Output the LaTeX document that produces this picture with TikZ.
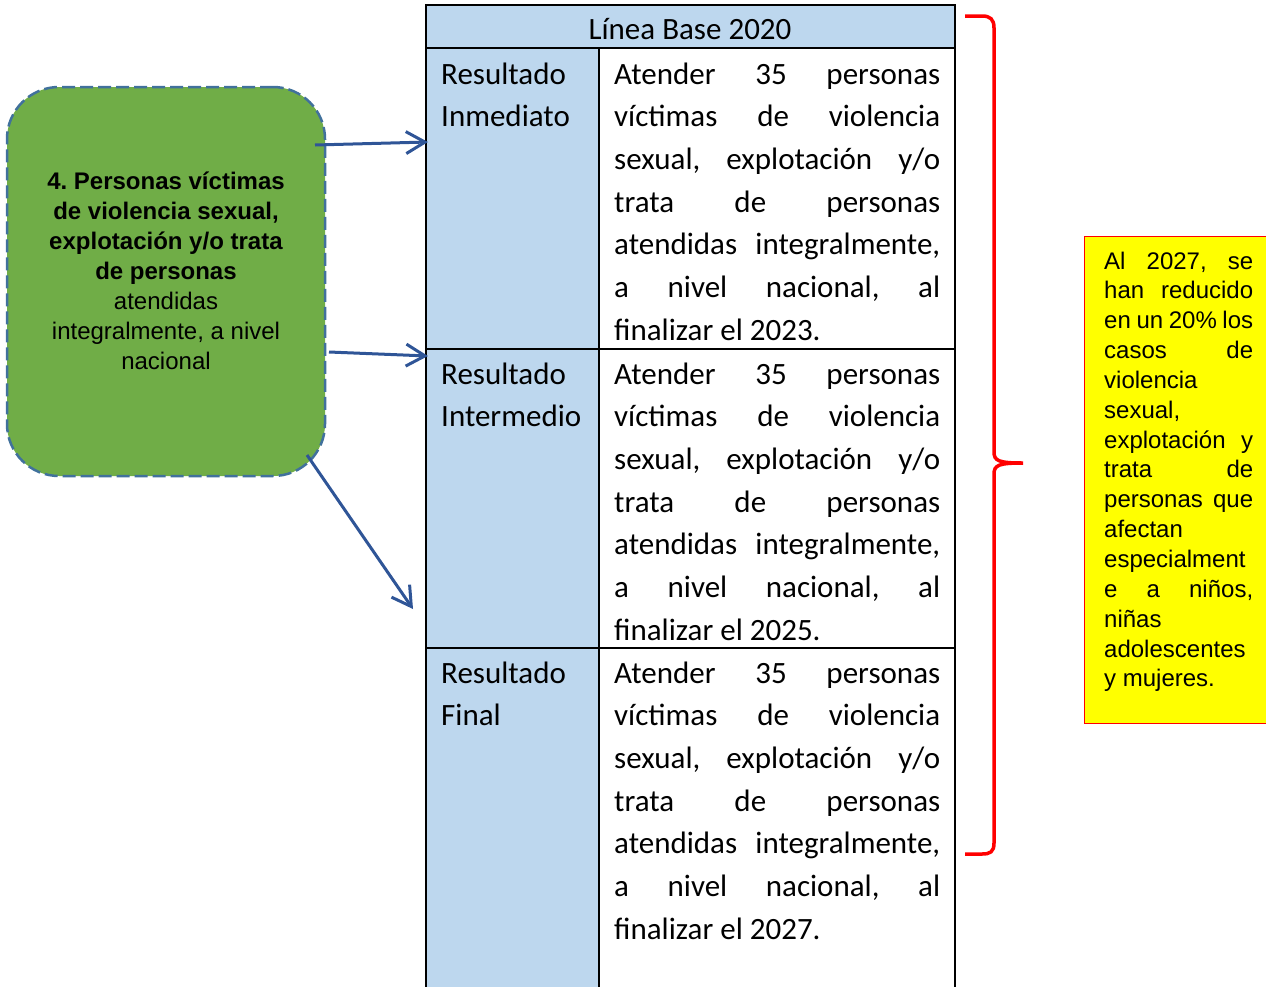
\documentclass[tikz,border=0pt]{standalone}
\usepackage{fontspec}
\setmainfont{Carlito}
\newfontfamily\arial{Liberation Sans}
\usetikzlibrary{arrows.meta}
\definecolor{cellblue}{RGB}{189,215,238}
\definecolor{boxgreen}{RGB}{112,173,71}
\definecolor{dashblue}{RGB}{65,113,156}
\definecolor{arrowblue}{RGB}{47,85,151}
\definecolor{pureyellow}{RGB}{255,255,0}
\definecolor{purered}{RGB}{255,0,0}
\newcommand{\jl}[1]{\makebox[326pt][s]{#1}}
\newcommand{\jy}[1]{\makebox[149pt][s]{#1}}
\frenchspacing
\begin{document}
\begin{tikzpicture}[x=1pt,y=-1pt,
  tabtext/.style={anchor=base west, inner sep=0pt, align=flush left, font=\fontsize{31}{42.7}\selectfont},
  celltext/.style={tabtext, text width=326pt},
  labeltext/.style={tabtext, text width=150pt},
  greenbox/.style={draw=dashblue, fill=boxgreen, line width=2.5pt, dash pattern=on 13pt off 5pt, rounded corners=52pt, minimum width=318pt, minimum height=389pt, inner sep=0pt},
  greentext/.style={anchor=base, inner sep=0pt, align=flush center, text width=300pt, font=\arial\fontsize{24}{30}\selectfont},
  yellowbox/.style={draw=purered, fill=pureyellow, line width=1.2pt, minimum width=191pt, minimum height=487pt, inner sep=0pt},
  yellowtext/.style={anchor=base west, inner sep=0pt, align=flush left, text width=149pt, font=\arial\fontsize{24}{29.85}\selectfont},
  conn/.style={draw=arrowblue, line width=3pt, -{Straight Barb[length=19pt,width=22pt,line width=3pt]}},
  brace/.style={draw=purered, line width=3.5pt}
]
\useasboundingbox (0,0) rectangle (1266,986);

% ---- table ----
\fill[cellblue] (426,5) rectangle (955,48);
\fill[cellblue] (426,48) rectangle (599,1000);
\draw[line width=2pt] (426,48) -- (955,48);
\draw[line width=2pt] (426,349) -- (955,349);
\draw[line width=2pt] (426,648) -- (955,648);
\draw[line width=2pt] (599,48) -- (599,1000);
\draw[line width=2.5pt] (426,1000) -- (426,5) -- (955,5) -- (955,1000);

\node[tabtext, anchor=base, text width=520pt, align=flush center] (head) at (690,39) {Línea Base 2020};

\node[labeltext] (l1) at (441,84) {Resultado\\Inmediato};
\node[labeltext] (l2) at (441,384) {Resultado\\Intermedio};
\node[labeltext] (l3) at (441,683) {Resultado\\Final};

\node[celltext] (t1) at (614,84) {\jl{Atender 35 personas}\\\jl{víctimas de violencia}\\\jl{sexual, explotación y/o}\\\jl{trata de personas}\\\jl{atendidas integralmente,}\\\jl{a nivel nacional, al}\\finalizar el 2023.};
\node[celltext] (t2) at (614,384) {\jl{Atender 35 personas}\\\jl{víctimas de violencia}\\\jl{sexual, explotación y/o}\\\jl{trata de personas}\\\jl{atendidas integralmente,}\\\jl{a nivel nacional, al}\\finalizar el 2025.};
\node[celltext] (t3) at (614,683) {\jl{Atender 35 personas}\\\jl{víctimas de violencia}\\\jl{sexual, explotación y/o}\\\jl{trata de personas}\\\jl{atendidas integralmente,}\\\jl{a nivel nacional, al}\\finalizar el 2027.};

% ---- green box ----
\node[greenbox] (goal) at (166,281.5) {};
\node[greentext] (goaltext) at (166,189) {\textbf{4. Personas víctimas}\\\textbf{de violencia sexual,}\\\textbf{explotación y/o trata}\\\textbf{de personas}\\atendidas\\integralmente, a nivel\\nacional};

% ---- arrows ----
\coordinate (a1s) at (315,145);
\coordinate (a1e) at (428,142);
\coordinate (a2s) at (329,352);
\coordinate (a2e) at (428,356);
\coordinate (a3s) at (307,455);
\coordinate (a3e) at (413,609);
\draw[conn] (a1s) -- (a1e);
\draw[conn] (a2s) -- (a2e);
\draw[conn] (a3s) -- (a3e);

% ---- brace ----
\draw[brace] (965,16) -- (982,16) .. controls (990,16) and (994,19) .. (994,28) -- (994,452)
  .. controls (994,461) and (999,463) .. (1023,463)
  .. controls (999,463) and (994,465) .. (994,474) -- (994,843)
  .. controls (994,852) and (990,854) .. (982,854) -- (965,854);

% ---- yellow box ----
\node[yellowbox, anchor=north west] (goalbox) at (1084,236) {};
\node[yellowtext] (goalboxtext) at (1104,269) {\jy{Al 2027, se}\\\jy{han reducido}\\\jy{en un 20\% los}\\\jy{casos de}\\violencia\\sexual,\\\jy{explotación y}\\\jy{trata de}\\\jy{personas que}\\afectan\\especialment\\\jy{e a niños,}\\niñas\\adolescentes\\y mujeres.};
\end{tikzpicture}
\end{document}
